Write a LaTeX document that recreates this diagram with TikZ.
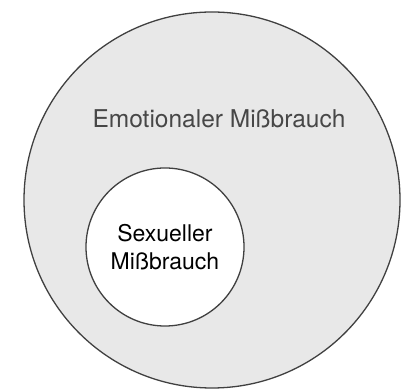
\documentclass[tikz,border=0pt]{standalone}
\usepackage{fontspec}
\setmainfont{TeX Gyre Heros}
\usetikzlibrary{positioning}

\begin{document}
\begin{tikzpicture}[x=1pt, y=1pt,
    ring/.style={circle, draw=black!75, line width=1.3pt, inner sep=0pt}]
        \useasboundingbox (0,0) rectangle (411,390);
        % outer circle
        \node[ring, fill=black!9, minimum size=376pt] (emo) at (212,190) {};
        \node[text=black!72, font=\fontsize{24.5}{28}\selectfont] (emolabel) at (219,271) {Emotionaler Mißbrauch};
        % inner circle
        \node[ring, fill=white, minimum size=158pt, align=center,
              font=\fontsize{23}{27.5}\selectfont] (sex) at (165,143) {Sexueller\\Mißbrauch};
    \end{tikzpicture}
\end{document}
